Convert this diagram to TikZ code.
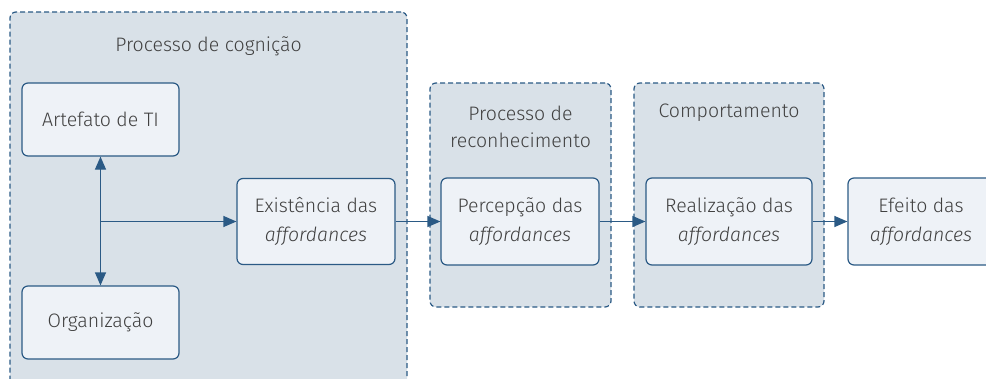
\documentclass[tikz,border=0pt]{standalone}
\usepackage{fontspec}
\setmainfont{Fira Sans}[UprightFont=* Light, ItalicFont=* Light Italic]
\usetikzlibrary{arrows.meta}
\definecolor{grupofundo}{HTML}{D9E1E8}
\definecolor{caixafundo}{HTML}{EEF2F7}
\definecolor{azul}{HTML}{2B5A85}
\definecolor{texto}{HTML}{404040}
\begin{document}
\begin{tikzpicture}[x=1pt, y=-1pt, font=\fontsize{19.5}{23}\selectfont, text=texto]
	\useasboundingbox (0,0) rectangle (986,378);
	\begin{scope}[every node/.style={draw=azul, fill=grupofundo, dash pattern=on 5pt off 3pt, line width=1.2pt, rounded corners=6pt, inner sep=0pt}]
		\node (g1) at (208.5,200) [minimum width=397pt, minimum height=376pt] {};
		\node (g2) at (520.5,195) [minimum width=181pt, minimum height=224pt] {};
		\node (g3) at (729,195) [minimum width=190pt, minimum height=224pt] {};
	\end{scope}

	\node (t1) at (208.5,46) {Processo de cognição};
	\node (t2) at (520.5,127) [align=center, font=\fontsize{19.5}{27}\selectfont] {Processo de\\reconhecimento};
	\node (t3) at (729,113) {Comportamento};

	\begin{scope}[every node/.style={draw=azul, fill=caixafundo, line width=1.2pt, rounded corners=6pt, align=center, font=\fontsize{19.5}{29}\selectfont}]
		\node (artefato) at (100.5,119.5) [minimum width=157pt, minimum height=73pt] {Artefato de TI};
		\node (org) at (100.5,322.5) [minimum width=157pt, minimum height=73pt] {Organização};
		\node (exist) at (316,221.5) [minimum width=158pt, minimum height=86pt] {Existência das\\\textit{affordances}};
		\node (percep) at (520,221.5) [minimum width=158pt, minimum height=87pt] {Percepção das\\\textit{affordances}};
		\node (realiz) at (729,221.5) [minimum width=166pt, minimum height=87pt] {Realização das\\\textit{affordances}};
		\node (efeito) at (921,221.5) [minimum width=146pt, minimum height=87pt] {Efeito das\\\textit{affordances}};
	\end{scope}

	\coordinate (junta) at (artefato.south |- exist.west);
	\begin{scope}[draw=azul, line width=1.2pt, >={Triangle[length=13pt, width=11pt]}]
		\draw[<->] (artefato) -- (org);
		\draw[->] (junta) -- (exist);
		\draw[->] (exist) -- (percep);
		\draw[->] (percep) -- (realiz);
		\draw[->] (realiz) -- (efeito);
	\end{scope}
\end{tikzpicture}
\end{document}
